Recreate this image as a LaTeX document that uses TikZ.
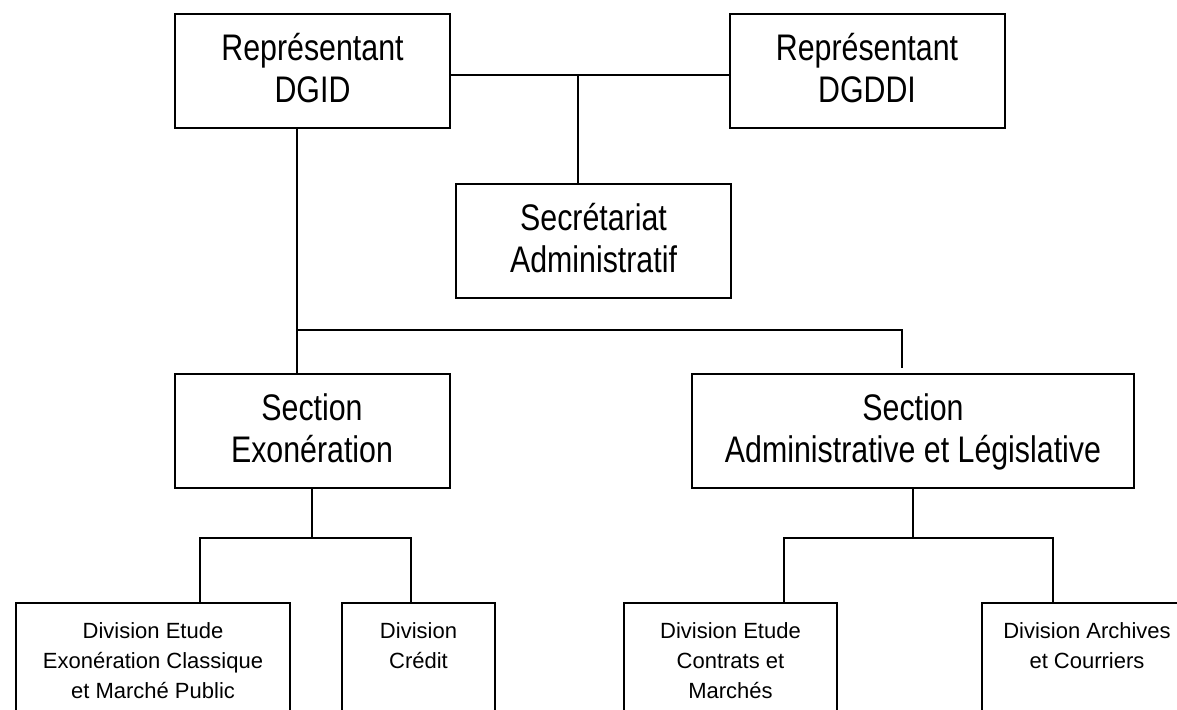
\documentclass[tikz,border=0pt]{standalone}
\usepackage{fontspec}
\setmainfont{Liberation Sans}
\newfontfamily\narrowfont[FakeStretch=0.82]{Liberation Sans}
\newcommand{\bigtxt}{\narrowfont\fontsize{18.5}{21}\selectfont}
\newcommand{\smalltxt}{\fontsize{11}{15}\selectfont}
\newcommand{\lines}[1]{\begin{tabular}[t]{@{}c@{}}#1\end{tabular}}
\newcommand{\two}[2]{\strut#1\\#2\rule[-4.7pt]{0pt}{0pt}}
\tikzset{
	bigbox/.style={draw, line width=1pt, align=center, inner sep=0pt, font=\bigtxt, minimum width=137.5pt, minimum height=57pt},
	divbox/.style={draw, line width=1pt, anchor=north, inner sep=0pt, font=\smalltxt, text height=17.5pt, text depth=60pt},
	link/.style={line width=1pt}
}
\begin{document}
	\begin{tikzpicture}[x=0.5pt, y=-0.5pt]
		\clip (0,0) rectangle (1177,709);
		\fill[white] (0,0) rectangle (1177,709);
		% top row
		\node[bigbox] (dgid) at (312.5,71) {\two{Représentant}{DGID}};
		\node[bigbox] (dgddi) at (867,71) {\two{Représentant}{DGDDI}};
		\node[bigbox] (secr) at (593.5,241) {\two{Secrétariat}{Administratif}};
		% sections
		\node[bigbox] (secexo) at (312,431) {\two{Section}{Exonération}};
		\node[bigbox, minimum width=221pt] (secadm) at (913,431) {\two{Section}{Administrative et Législative}};
		% divisions
		\node[divbox, minimum width=137pt] (divexo) at (153,602) {\lines{Division Etude\\Exonération Classique\\et Marché Public}};
		\node[divbox, minimum width=76.5pt] (divcred) at (418.5,602) {\lines{Division\\Crédit}};
		\node[divbox, minimum width=106.5pt] (divcont) at (730.5,602) {\lines{Division Etude\\Contrats et\\Marchés}};
		\node[divbox, minimum width=105pt] (divarch) at (1087,602) {\lines{Division Archives\\et Courriers}};
		% junctions
		\coordinate (top) at (578,75);
		\coordinate (mid) at (297,330);
		\coordinate (adm) at (902,330);
		\coordinate (admend) at (902,368);
		\coordinate (exoL) at (200,538);
		\coordinate (exoR) at (411,538);
		\coordinate (admL) at (784,538);
		\coordinate (admR) at (1053,538);
		\draw[link] (dgid.east |- top) -- (dgddi.west |- top);
		\draw[link] (top) -- (top |- secr.north);
		\draw[link] (dgid.south -| mid) -- (secexo.north -| mid);
		\draw[link] (mid) -- (adm) -- (admend);
		\draw[link] (secexo.south) -- (secexo.south |- exoL);
		\draw[link] (exoL |- divexo.north) -- (exoL) -- (exoR) -- (exoR |- divcred.north);
		\draw[link] (secadm.south) -- (secadm.south |- admL);
		\draw[link] (admL |- divcont.north) -- (admL) -- (admR) -- (admR |- divarch.north);
	\end{tikzpicture}
\end{document}
